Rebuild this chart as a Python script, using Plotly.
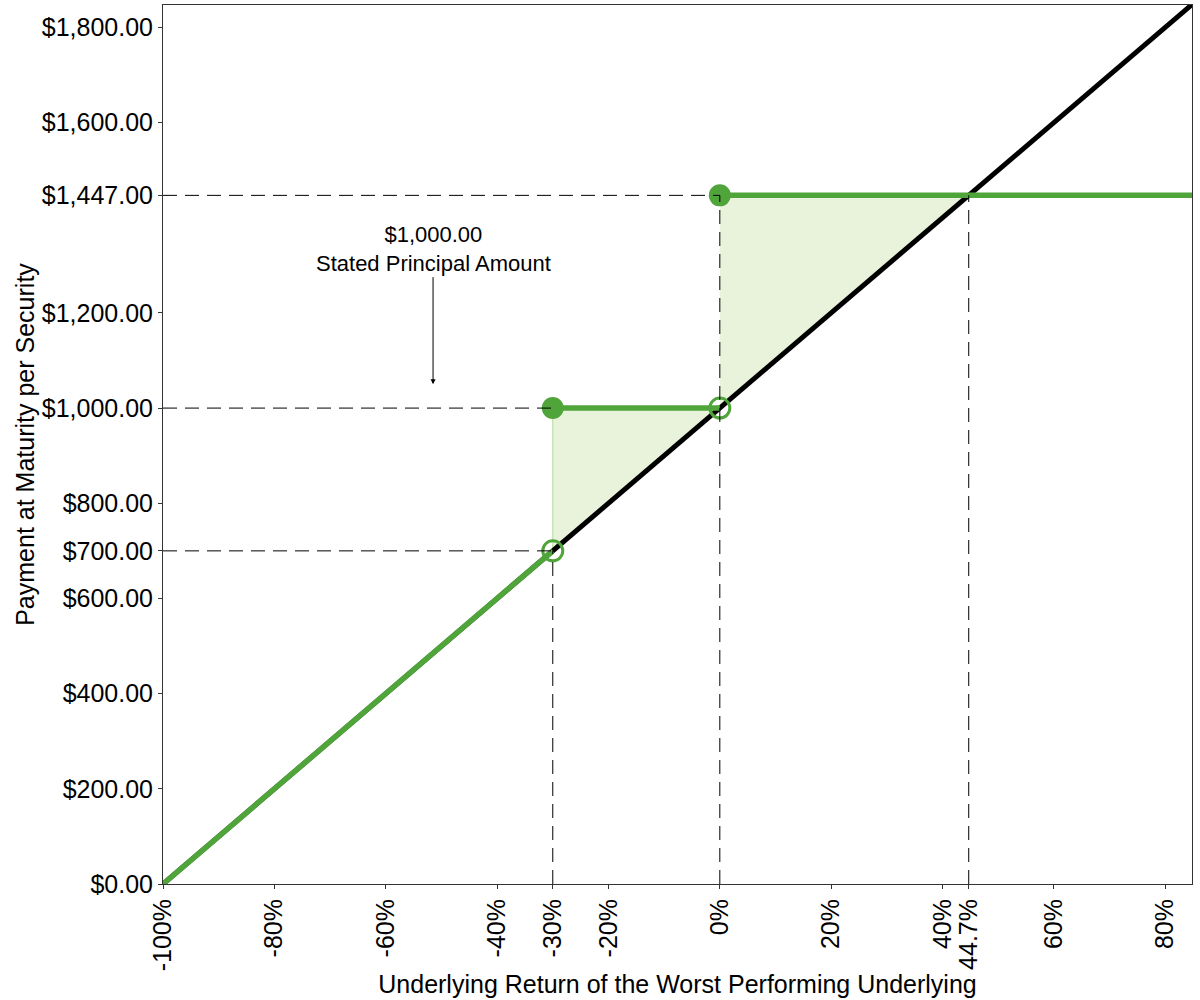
import plotly.graph_objects as go

# underlying return (fraction) and payment per security
line_x = [-1.0, 0.85]
line_y = [0.0, 1850.0]

seg_low_x = [-1.0, -0.3]
seg_low_y = [0.0, 700.0]
seg_mid_x = [-0.3, 0.0]
seg_mid_y = [1000.0, 1000.0]
seg_top_x = [0.0, 0.85]
seg_top_y = [1447.0, 1447.0]

filled_x = [-0.3, 0.0]
filled_y = [1000.0, 1447.0]
open_x = [-0.3, 0.0]
open_y = [700.0, 1000.0]

fill1_x = [-0.3, -0.3, 0.0, -0.3]
fill1_y = [700.0, 1000.0, 1000.0, 700.0]
fill2_x = [0.0, 0.0, 0.447, 0.0]
fill2_y = [1000.0, 1447.0, 1447.0, 1000.0]

x_ticks = [-1.0, -0.8, -0.6, -0.4, -0.3, -0.2, 0.0, 0.2, 0.4, 0.447, 0.6, 0.8]
x_labels = ["-100%", "-80%", "-60%", "-40%", "-30%", "-20%", "0%", "20%", "40%", "44.7%", "60%", "80%"]
y_ticks = [0, 200, 400, 600, 700, 800, 1000, 1200, 1447, 1600, 1800]
y_labels = ["$0.00", "$200.00", "$400.00", "$600.00", "$700.00", "$800.00", "$1,000.00",
            "$1,200.00", "$1,447.00", "$1,600.00", "$1,800.00"]

# dashed guide lines (x pairs, y pairs)
guides = [
    ([-1.0, -0.3], [700, 700]),
    ([-1.0, -0.3], [1000, 1000]),
    ([-1.0, 0.0], [1447, 1447]),
    ([-0.3, -0.3], [0, 700]),
    ([0.0, 0.0], [0, 1447]),
    ([0.447, 0.447], [0, 1447]),
]

green = "#4fa43a"
fill_green = "#e9f3dc"

fig = go.Figure()

fig.add_trace(go.Scatter(x=fill1_x, y=fill1_y, fill="toself", fillcolor=fill_green,
                         mode="lines", line=dict(color="#b3dd9c", width=1), hoverinfo="skip"))
fig.add_trace(go.Scatter(x=fill2_x, y=fill2_y, fill="toself", fillcolor=fill_green,
                         mode="lines", line=dict(color=fill_green, width=0), hoverinfo="skip"))

fig.add_trace(go.Scatter(x=line_x, y=line_y, mode="lines", line=dict(color="black", width=5)))

for sx, sy in [(seg_low_x, seg_low_y), (seg_mid_x, seg_mid_y), (seg_top_x, seg_top_y)]:
    fig.add_trace(go.Scatter(x=sx, y=sy, mode="lines", line=dict(color=green, width=5.5)))

fig.add_trace(go.Scatter(x=filled_x, y=filled_y, mode="markers",
                         marker=dict(symbol="circle", size=22, color=green)))
fig.add_trace(go.Scatter(x=open_x, y=open_y, mode="markers",
                         marker=dict(symbol="circle-open", size=20, color=green,
                                     line=dict(width=3, color=green))))

for gx, gy in guides:
    fig.add_trace(go.Scatter(x=gx, y=gy, mode="lines",
                             line=dict(color="black", width=1, dash="14px,8px"), hoverinfo="skip"))

fig.add_annotation(x=-0.515, y=1050, ax=-0.515, ay=1335, axref="x", ayref="y",
                   text="$1,000.00<br>Stated Principal Amount", showarrow=True,
                   arrowhead=2, arrowsize=1, arrowwidth=1, arrowcolor="black",
                   font=dict(size=22, color="black"))

axis_font = dict(family="Liberation Sans, Arial", size=25, color="black")
title_font = dict(family="Liberation Sans, Arial", size=25, color="black")

fig.update_layout(
    width=1200, height=1000,
    margin=dict(l=163, r=8, t=5, b=116),
    paper_bgcolor="white", plot_bgcolor="white",
    showlegend=False,
    font=dict(family="Liberation Sans, Arial", color="black"),
    xaxis=dict(
        range=[-1.0, 0.848], tickvals=x_ticks, ticktext=x_labels, tickangle=-90,
        tickfont=axis_font, showgrid=False, zeroline=False, automargin=False,
        showline=True, linecolor="#333333", linewidth=1, mirror=True,
        ticks="outside", ticklen=4, tickcolor="#333333",
        title=dict(text="Underlying Return of the Worst Performing Underlying",
                   font=title_font, standoff=0),
    ),
    yaxis=dict(
        range=[0, 1847], tickvals=y_ticks, ticktext=y_labels,
        tickfont=axis_font, showgrid=False, zeroline=False, automargin=False,
        showline=True, linecolor="#333333", linewidth=1, mirror=True,
        ticks="outside", ticklen=4, tickcolor="#333333",
        title=dict(text="Payment at Maturity per Security",
                   font=title_font, standoff=0),
    ),
)

# remove the default page margin so the 1200x1000 figure fills the window
fig.write_html("out.html", config={"displayModeBar": False},
               post_script="document.body.style.margin='0px';")
